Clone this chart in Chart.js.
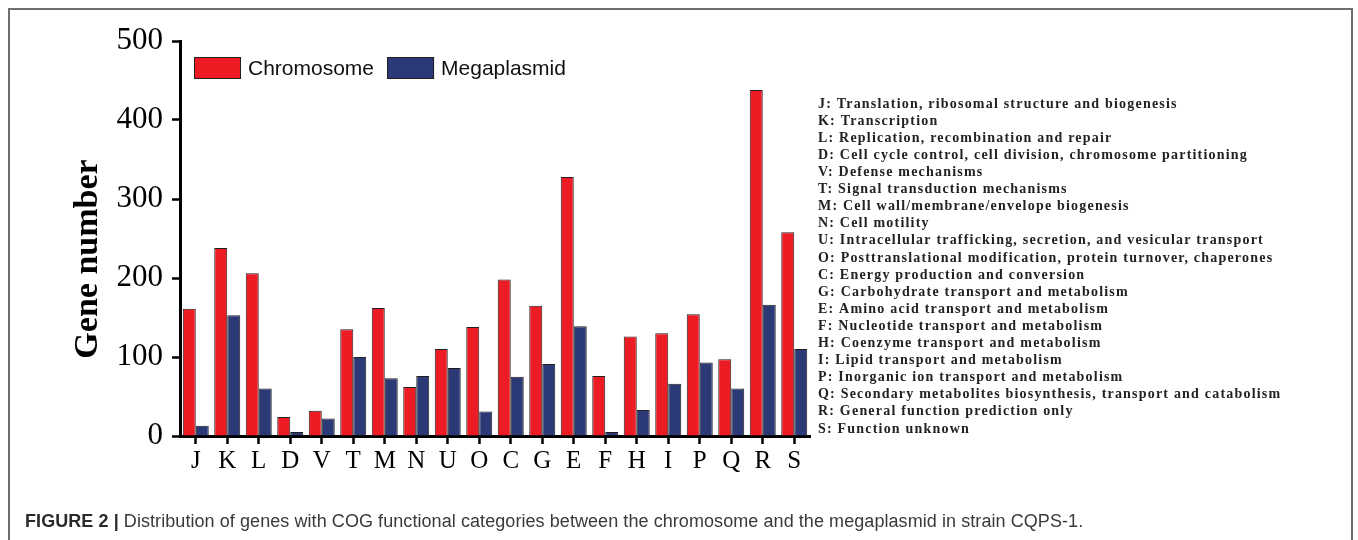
<!DOCTYPE html>
<html>
<head>
<meta charset="utf-8">
<script src="https://cdn.jsdelivr.net/npm/chart.js@4.4.0/dist/chart.umd.min.js"></script>
<style>
  html, body { margin: 0; padding: 0; background: #fff; }
  body { width: 1358px; height: 540px; position: relative; overflow: hidden; }
  #frame {
    position: absolute; left: 8px; top: 8px; width: 1345px; height: 560px;
    border: 2px solid #6e6e6e; border-bottom: none; box-sizing: border-box;
  }
  #chart { position: absolute; left: 0; top: 0; }
  #caption {
    position: absolute; left: 25px; top: 511px;
    font-family: "Liberation Sans", Arial, sans-serif; font-size: 18px;
    letter-spacing: 0.07px;
    color: #3a3a3a; white-space: nowrap;
  }
  #caption b { color: #2a2a2a; }
</style>
</head>
<body>
<div id="frame"></div>
<canvas id="chart" width="1358" height="540"></canvas>
<div id="caption"><b>FIGURE 2 |</b> Distribution of genes with COG functional categories between the chromosome and the megaplasmid in strain CQPS-1.</div>
<script>
const categories = ["J", "K", "L", "D", "V", "T", "M", "N", "U", "O", "C", "G", "E", "F", "H", "I", "P", "Q", "R", "S"];

const chromosome = [161, 238, 206, 24, 32, 135, 162, 62, 110, 138, 198, 165, 328, 76, 126, 130, 154, 97, 438, 258];

const megaplasmid = [13, 153, 60, 5, 22, 100, 73, 76, 86, 31, 75, 91, 139, 5, 33, 66, 93, 60, 166, 110];

const descriptions = [
  "Translation, ribosomal structure and biogenesis",
  "Transcription",
  "Replication, recombination and repair",
  "Cell cycle control, cell division, chromosome partitioning",
  "Defense mechanisms",
  "Signal transduction mechanisms",
  "Cell wall/membrane/envelope biogenesis",
  "Cell motility",
  "Intracellular trafficking, secretion, and vesicular transport",
  "Posttranslational modification, protein turnover, chaperones",
  "Energy production and conversion",
  "Carbohydrate transport and metabolism",
  "Amino acid transport and metabolism",
  "Nucleotide transport and metabolism",
  "Coenzyme transport and metabolism",
  "Lipid transport and metabolism",
  "Inorganic ion transport and metabolism",
  "Secondary metabolites biosynthesis, transport and catabolism",
  "General function prediction only",
  "Function unknown",
];

const yTicks = [0, 100, 200, 300, 400, 500];

const colorRed = "#ed1c24",
  colorBlue = "#2b3a76",
  colorEdge = "#231f20",
  serif = '"Liberation Serif", "Times New Roman", serif';

// title, legend, minor ticks and the category key beside the plot
const extras = {
  id: "extras",
  afterDraw(chart) {
    const ctx = chart.ctx;
    const area = chart.chartArea;
    const y = chart.scales.y;
    ctx.save();

    // short minor ticks on the y axis
    ctx.strokeStyle = "#000";
    ctx.lineWidth = 2.5;
    y.ticks.forEach((t) => {
      if (yTicks.includes(t.value)) return;
      const py = y.getPixelForValue(t.value);
      ctx.beginPath();
      ctx.moveTo(area.left - 5, py);
      ctx.lineTo(area.left, py);
      ctx.stroke();
    });

    // y title
    ctx.translate(88, 259);
    ctx.rotate(-Math.PI / 2);
    ctx.font = "bold 34px " + serif;
    ctx.fillStyle = "#000";
    ctx.textAlign = "center";
    ctx.textBaseline = "middle";
    ctx.fillText("Gene number", 0, 0);
    ctx.setTransform(1, 0, 0, 1, 0, 0);

    // legend
    let lx = area.left + 14;
    ctx.font = '21px "Liberation Sans", Arial, sans-serif';
    ctx.textAlign = "left";
    chart.data.datasets.forEach((ds) => {
      ctx.fillStyle = ds.backgroundColor;
      ctx.fillRect(lx, 57, 47, 22);
      ctx.strokeStyle = colorEdge;
      ctx.lineWidth = 1;
      ctx.strokeRect(lx + 0.5, 57.5, 46, 21);
      ctx.fillStyle = "#111";
      ctx.fillText(ds.label, lx + 54, 69);
      lx += 54 + ctx.measureText(ds.label).width + 13;
    });

    // category key
    ctx.font = "bold 14px " + serif;
    ctx.letterSpacing = "1.2px";
    ctx.fillStyle = "#222";
    categories.forEach((c, i) => {
      ctx.fillText(c + ": " + descriptions[i], area.right + 8, 104 + i * 17.1);
    });
    ctx.restore();
  },
};

const ctx = document.getElementById("chart").getContext("2d");

new Chart(ctx, {
  type: "bar",
  data: {
    labels: categories,
    datasets: [
      {
        label: "Chromosome",
        data: chromosome,
        backgroundColor: colorRed,
        borderColor: colorEdge,
        borderWidth: 1,
      },
      {
        label: "Megaplasmid",
        data: megaplasmid,
        backgroundColor: colorBlue,
        borderColor: colorEdge,
        borderWidth: 1,
      },
    ],
  },
  options: {
    responsive: false,
    animation: false,
    devicePixelRatio: 1,
    categoryPercentage: 0.825,
    barPercentage: 1.0,
    layout: {
      autoPadding: false,
      padding: { left: 0, right: 548, top: 41, bottom: 0 },
    },
    plugins: {
      legend: { display: false },
      tooltip: { enabled: false },
    },
    scales: {
      x: {
        offset: true,
        grid: {
          offset: false,
          drawOnChartArea: false,
          drawTicks: true,
          tickLength: 8,
          tickWidth: 2.5,
          tickColor: "#000",
        },
        border: { color: "#000", width: 3 },
        ticks: {
          color: "#000",
          padding: 2,
          font: { family: serif, size: 25 },
        },
        afterFit: (scale) => { scale.height = 104; },
      },
      y: {
        min: 0,
        max: 500,
        grid: {
          drawOnChartArea: false,
          drawTicks: true,
          tickLength: 8,
          tickWidth: 2.5,
          tickColor: (c) => (yTicks.includes(c.tick.value) ? "#000" : "rgba(0,0,0,0)"),
        },
        border: { color: "#000", width: 3 },
        ticks: {
          stepSize: 50,
          color: "#000",
          padding: 9,
          font: { family: serif, size: 31 },
          callback: (v) => (yTicks.includes(v) ? v : ""),
        },
        afterFit: (scale) => { scale.width = 180; },
      },
    },
  },
  plugins: [extras],
});
</script>
</body>
</html>
